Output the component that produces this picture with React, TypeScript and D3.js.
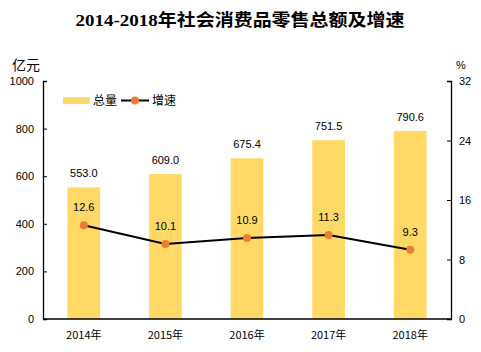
import React, { useEffect, useRef } from 'react';
import * as d3 from 'd3';

const years = ['2014年', '2015年', '2016年', '2017年', '2018年'];
const totals = [553.0, 609.0, 675.4, 751.5, 790.6];
const growth = [12.6, 10.1, 10.9, 11.3, 9.3];
const leftTicks = [0, 200, 400, 600, 800, 1000];
const rightTicks = [0, 8, 16, 24, 32];

const App = () => {
  const width = 481;
  const height = 352;
  const margin = { top: 81, right: 30, bottom: 33, left: 43 };
  const ref = useRef<SVGSVGElement>(null);

  useEffect(() => {
    const svg = d3.select(ref.current);
    svg.selectAll('*').remove();
    const tickFont = '"Liberation Sans", Arial, sans-serif';
    const cjkFont = '"Noto Sans CJK SC", sans-serif';

    const x = d3
      .scaleBand()
      .domain(years)
      .range([margin.left, width - margin.right])
      .paddingInner(0.6)
      .paddingOuter(0.3);
    const yL = d3.scaleLinear().domain([0, 1000]).range([height - margin.bottom, margin.top]);
    const yR = d3.scaleLinear().domain([0, 32]).range([height - margin.bottom, margin.top]);

    // title
    svg
      .append('text')
      .attr('x', 240)
      .attr('y', 26)
      .attr('text-anchor', 'middle')
      .attr('font-family', '"Liberation Serif", "Noto Sans CJK SC", serif')
      .attr('font-weight', 'bold')
      .attr('font-size', 17)
      .attr('textLength', 329)
      .attr('lengthAdjust', 'spacingAndGlyphs')
      .text('2014-2018年社会消费品零售总额及增速');

    // units
    svg.append('text').attr('x', 12).attr('y', 70).attr('font-family', cjkFont).attr('font-size', 14).text('亿元');
    svg.append('text').attr('x', 456).attr('y', 69).attr('font-family', tickFont).attr('font-size', 11).text('%');

    // bars
    svg
      .append('g')
      .selectAll('rect')
      .data(totals)
      .enter()
      .append('rect')
      .attr('x', (d, i) => x(years[i])!)
      .attr('y', (d) => yL(d))
      .attr('width', x.bandwidth())
      .attr('height', (d) => yL(0) - yL(d))
      .attr('fill', '#FFD966');

    svg
      .append('g')
      .selectAll('text')
      .data(totals)
      .enter()
      .append('text')
      .attr('x', (d, i) => x(years[i])! + x.bandwidth() / 2)
      .attr('y', (d) => yL(d) - 10)
      .attr('text-anchor', 'middle')
      .attr('font-family', tickFont)
      .attr('font-size', 11)
      .text((d) => d.toFixed(1));

    // axes
    const left = svg.append('g').attr('transform', `translate(${margin.left},0)`);
    left.call(d3.axisRight(yL).tickValues(leftTicks).tickSize(4).tickFormat((d) => String(d)));
    left.selectAll('text').attr('x', -9).attr('text-anchor', 'end');
    const right = svg.append('g').attr('transform', `translate(${width - margin.right},0)`);
    right.call(d3.axisLeft(yR).tickValues(rightTicks).tickSize(4).tickFormat((d) => String(d)));
    right.selectAll('text').attr('x', 8).attr('text-anchor', 'start');
    [left, right].forEach((g) => {
      g.select('.domain').attr('stroke', '#000').attr('stroke-width', 1.3);
      g.selectAll('.tick line').attr('stroke', '#000');
      g.selectAll('text').attr('font-family', tickFont).attr('font-size', 11).attr('fill', '#000');
    });

    // baseline
    svg
      .append('line')
      .attr('x1', margin.left)
      .attr('x2', width - margin.right)
      .attr('y1', yL(0))
      .attr('y2', yL(0))
      .attr('stroke', '#000')
      .attr('stroke-width', 1.3);

    // x labels
    svg
      .append('g')
      .selectAll('text')
      .data(years)
      .enter()
      .append('text')
      .attr('x', (d) => x(d)! + x.bandwidth() / 2)
      .attr('y', 339)
      .attr('text-anchor', 'middle')
      .attr('font-family', cjkFont)
      .attr('font-size', 11)
      .text((d) => d);

    // growth line
    const line = d3
      .line<number>()
      .x((d, i) => x(years[i])! + x.bandwidth() / 2)
      .y((d) => yR(d));
    svg.append('path').datum(growth).attr('d', line).attr('fill', 'none').attr('stroke', '#000').attr('stroke-width', 2);
    svg
      .append('g')
      .selectAll('circle')
      .data(growth)
      .enter()
      .append('circle')
      .attr('cx', (d, i) => x(years[i])! + x.bandwidth() / 2)
      .attr('cy', (d) => yR(d))
      .attr('r', 4)
      .attr('fill', '#ED7D31');
    svg
      .append('g')
      .selectAll('text')
      .data(growth)
      .enter()
      .append('text')
      .attr('x', (d, i) => x(years[i])! + x.bandwidth() / 2)
      .attr('y', (d) => yR(d) - 14)
      .attr('text-anchor', 'middle')
      .attr('font-family', tickFont)
      .attr('font-size', 11)
      .text((d) => d.toFixed(1));

    // legend
    const lg = svg.append('g');
    lg.append('rect').attr('x', 63).attr('y', 97).attr('width', 27).attr('height', 7).attr('fill', '#FFD966');
    lg.append('text').attr('x', 93).attr('y', 105).attr('font-family', cjkFont).attr('font-size', 12).text('总量');
    lg.append('line').attr('x1', 121).attr('x2', 149).attr('y1', 100.5).attr('y2', 100.5).attr('stroke', '#000').attr('stroke-width', 2);
    lg.append('circle').attr('cx', 135).attr('cy', 100.5).attr('r', 4).attr('fill', '#ED7D31');
    lg.append('text').attr('x', 152).attr('y', 105).attr('font-family', cjkFont).attr('font-size', 12).text('增速');
  }, []);

  return <svg ref={ref} width={width} height={height} style={{ display: 'block', margin: '-8px' }} />;
};

export default App;
